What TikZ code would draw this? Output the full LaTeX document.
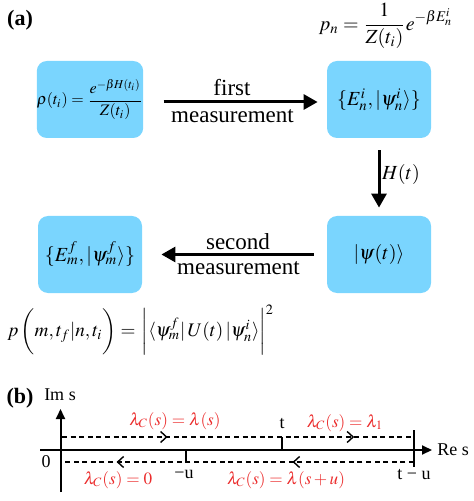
\documentclass[tikz,border=0pt]{standalone}
\usepackage{amsmath}
\usepackage{mathptmx}
\usepackage[no-math]{fontspec}
\setmainfont{Liberation Serif}
\usetikzlibrary{arrows.meta,decorations.markings,calc}
\definecolor{boxblue}{RGB}{122,213,254}
\definecolor{lblred}{RGB}{235,45,45}
\tikzset{
  stbox/.style={fill=boxblue, rounded corners=5pt, minimum width=52pt, minimum height=38.5pt, inner sep=0pt, font=\fontsize{10}{12}\selectfont},
  bigarrow/.style={line width=1.5pt, -{Triangle[length=7pt,width=7.5pt]}},
  txt/.style={font=\fontsize{11.5}{14}\selectfont, inner sep=0pt},
  mth/.style={font=\fontsize{10}{12}\selectfont, inner sep=0pt},
  panel/.style={font=\fontsize{11}{13}\selectfont\bfseries, inner sep=0pt},
  axisline/.style={line width=1pt},
  axisarrow/.style={line width=1pt, -{Triangle[length=5pt,width=4.5pt]}},
  small/.style={font=\fontsize{9}{11}\selectfont, inner sep=0pt},
  redlbl/.style={font=\fontsize{8.6}{10}\selectfont, inner sep=0pt, text=lblred},
  dashpath/.style={line width=0.7pt, dash pattern=on 2.5pt off 1.8pt},
}
\begin{document}
\begin{tikzpicture}[x=0.5pt,y=-0.5pt]
\useasboundingbox (0,0) rectangle (473,501);
% ---- panel (a)
\node[panel] (pa) at (20,20) {(a)};
\node[stbox, font=\fontsize{8}{10}\selectfont] (b1) at (90,99.5) {$\displaystyle \rho(t_i)=\frac{e^{-\beta H(t_i)}}{Z(t_i)}$};
\node[stbox] (b2) at (379,99.5) {$\{E_n^i,|\psi_n^i\rangle\}$};
\node[stbox] (b3) at (90,254.5) {$\{E_m^f,|\psi_m^f\rangle\}$};
\node[stbox] (b4) at (379,254.5) {$|\psi(t)\rangle$};
\node[mth] (pn) at (386,26) {$\displaystyle p_n=\frac{1}{Z(t_i)}e^{-\beta E_n^i}$};
\draw[bigarrow, shorten <=10pt, shorten >=4.5pt] ($(b1.east)+(0,2.5)$) -- ($(b2.west)+(0,2.5)$);
\node[txt] (f1) at (232,88) {first};
\node[txt] (m1) at (232.5,116) {measurement};
\draw[bigarrow, shorten <=6pt, shorten >=4pt] (b2.south) -- (b4.north);
\node[mth] (ht) at (401,175) {$H(t)$};
\draw[bigarrow, shorten <=6.5pt, shorten >=9.5pt] (b4.west) -- (b3.east);
\node[txt] (s2) at (238,242) {second};
\node[txt] (m2) at (238.5,268) {measurement};
\node[mth, font=\fontsize{9.6}{11}\selectfont, anchor=west] (pf) at (7,330) {$p\,\biggl(m,t_f|n,t_i\biggr)=\,\biggl|\langle\psi_m^f|\,U(t)\,|\psi_n^i\rangle\biggr|^2$};
% ---- panel (b)
\node[panel] (pb) at (20,398) {(b)};
\node[small] (ims) at (60,395) {Im s};
\coordinate (vb) at (60.5,492);
\coordinate (vt) at (60.5,409);
\coordinate (hl) at (40,450);
\coordinate (hr) at (432,450);
\draw[axisarrow] (vb) -- (vt);
\draw[axisarrow] (hl) -- (hr);
\node[small, anchor=west] (res) at (437,450) {Re s};
\coordinate (ul) at (62,437);
\coordinate (ur) at (414,437);
\coordinate (ll) at (62,462);
\coordinate (lr) at (414,462);
\draw[dashpath, postaction={decorate}, decoration={markings,
  mark=at position 0.30 with {\arrow{Straight Barb[length=3pt,width=5.5pt,line width=0.7pt]}},
  mark=at position 0.83 with {\arrow{Straight Barb[length=3pt,width=5.5pt,line width=0.7pt]}}}] (ul) -- (ur);
\draw[dashpath, postaction={decorate}, decoration={markings,
  mark=at position 0.345 with {\arrow{Straight Barb[length=3pt,width=5.5pt,line width=0.7pt]}},
  mark=at position 0.845 with {\arrow{Straight Barb[length=3pt,width=5.5pt,line width=0.7pt]}}}] (lr) -- (ll);
\coordinate (tu1) at (186,450);
\coordinate (tu2) at (186,462);
\draw[axisline] (tu1) -- (tu2);
\coordinate (tt1) at (282,437);
\coordinate (tt2) at (282,450);
\draw[axisline] (tt1) -- (tt2);
\coordinate (tl1) at (414,430);
\coordinate (tl2) at (414,467);
\draw[axisline] (tl1) -- (tl2);
\node[small] (zero) at (46,462) {0};
\node[small] (mu) at (184,474) {−u};
\node[small] (tlab) at (282,424) {t};
\node[small] (tmu) at (414,475) {t − u};
\node[redlbl] (r1) at (175,421) {$\lambda_C(s)=\lambda(s)$};
\node[redlbl] (r2) at (345,423) {$\lambda_C(s)=\lambda_1$};
\node[redlbl] (r3) at (118,480) {$\lambda_C(s)=0$};
\node[redlbl] (r4) at (286,480) {$\lambda_C(s)=\lambda(s+u)$};
\end{tikzpicture}
\end{document}
